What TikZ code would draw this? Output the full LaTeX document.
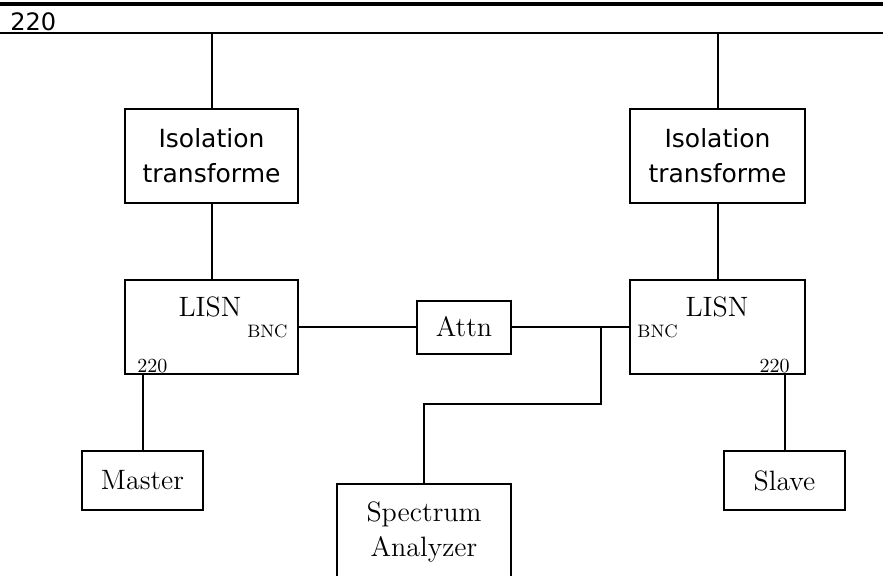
\documentclass[tikz,border=0pt]{standalone}
\usepackage{fontspec}
\newfontfamily\sansfont{DejaVu Sans}
\tikzset{
  box/.style={draw,line width=1pt,inner sep=0pt,align=center},
  wire/.style={line width=1pt},
  isotext/.style={font=\sansfont\fontsize{12.5}{17.5}\selectfont},
  devtext/.style={font=\fontsize{14}{17.5}\selectfont},
  smalltext/.style={font=\fontsize{9}{10}\selectfont,inner sep=0pt},
  pintext/.style={font=\fontsize{10}{11}\selectfont,inner sep=0pt}
}
\begin{document}
\begin{tikzpicture}[x=0.5pt,y=-0.5pt]
    \useasboundingbox (0,0) rectangle (883,575);
    \clip (0,0) rectangle (883,575);
    \coordinate (busL) at (0,33);
    \coordinate (busR) at (883,33);
    \draw[line width=2pt] (0,3.5) -- (883,3.5);
    \draw[wire] (busL) -- (busR);
    \node[anchor=base west,inner sep=0pt,font=\sansfont\fontsize{12}{14}\selectfont] (mains) at (10,30) {220};

    \node[box,isotext,minimum width=86.5pt,minimum height=47pt] (isoL) at (211.5,156) {Isolation\\transforme};
    \node[box,isotext,minimum width=87.5pt,minimum height=47pt] (isoR) at (717.5,156) {Isolation\\transforme};
    \node[box,minimum width=86.5pt,minimum height=47pt] (lisnL) at (211.5,327) {};
    \node[box,minimum width=87.5pt,minimum height=47pt] (lisnR) at (717.5,327) {};
    \node[box,devtext,minimum width=47pt,minimum height=26.5pt] (attn) at (464,327) {Attn};
    \node[box,devtext,minimum width=60.5pt,minimum height=29.5pt] (master) at (142.5,480.5) {Master};
    \node[box,devtext,minimum width=60.5pt,minimum height=29.5pt] (slave) at (784.5,480.5) {Slave};
    \node[box,devtext,minimum width=87pt,minimum height=48pt] (spec) at (424,532) {Spectrum\\Analyzer};

    \node[devtext,anchor=base,inner sep=0pt] (lisnLtxt) at (210,316) {LISN};
    \node[devtext,anchor=base,inner sep=0pt] (lisnRtxt) at (717,316) {LISN};
    \node[smalltext,anchor=base east] (bncL) at (288,337) {BNC};
    \node[smalltext,anchor=base west] (bncR) at (637,337) {BNC};
    \node[pintext,anchor=base west] (pinL) at (137,372) {220};
    \node[pintext,anchor=base east] (pinR) at (790,372) {220};

    \draw[wire] (isoL.north |- busL) -- (isoL.north);
    \draw[wire] (isoR.north |- busR) -- (isoR.north);
    \draw[wire] (isoL.south) -- (lisnL.north);
    \draw[wire] (isoR.south) -- (lisnR.north);
    \draw[wire] (master.north |- lisnL.south) -- (master.north);
    \draw[wire] (slave.north |- lisnR.south) -- (slave.north);
    \draw[wire] (lisnL.east) -- (attn.west);
    \draw[wire] (attn.east) -- (lisnR.west);
    \coordinate (tap) at (601,327);
    \draw[wire] (tap) -- ++(0,77) -| (spec.north);
\end{tikzpicture}
\end{document}
